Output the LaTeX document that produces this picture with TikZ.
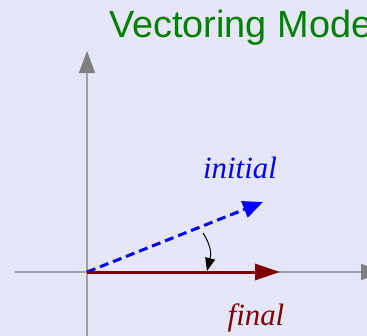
\documentclass[tikz,border=0pt]{standalone}
\usepackage{fontspec}
\setmainfont{Liberation Serif}
\setsansfont{Liberation Sans}
\usetikzlibrary{arrows.meta}
\definecolor{bgpanel}{RGB}{230,230,250}
\definecolor{axisgray}{RGB}{160,160,160}
\definecolor{tipgray}{RGB}{128,128,128}
\definecolor{darkred}{RGB}{128,0,0}
\definecolor{titlegreen}{RGB}{0,128,0}

\begin{document}
\begin{tikzpicture}[x=1bp, y=-1bp, every node/.style={inner sep=0pt},
	axis/.style={axisgray, line width=1.5bp, -{Triangle[length=22bp, width=16bp, color=tipgray]}},
	lbl/.style={font=\itshape\fontsize{31}{35}\selectfont, anchor=base}]
	\useasboundingbox (0,0) rectangle (367,336);
	\fill[bgpanel] (0,0) rectangle (367,336);
	\clip (0,0) rectangle (367,336);
	\node[titlegreen, anchor=base west, font=\sffamily\fontsize{38}{42}\selectfont] (title) at (109,37) {Vectoring Mode};
	\coordinate (O) at (87,272);
	\coordinate (ybot) at (87,340);
	\coordinate (ytop) at (87,51);
	\coordinate (xleft) at (15,272);
	\coordinate (xright) at (383,272);
	\draw[axis] (ybot) -- (ytop);
	\draw[axis] (xleft) -- (xright);
	\coordinate (vin) at (263,202);
	\coordinate (vfin) at (280,272);
	\draw[blue, line width=3bp, dash pattern=on 9bp off 5bp, -{Triangle[length=20bp, width=17bp]}] (O) -- (vin);
	\draw[darkred, line width=3bp, -{Triangle[length=25bp, width=16bp]}] (O) -- (vfin);
	\coordinate (rotfrom) at (203,233);
	\coordinate (rotto) at (207,271);
	\draw[black, line width=1bp, -{Triangle[length=13bp, width=10bp]}] (rotfrom) .. controls (212,247) and (211,255) .. (rotto);
	\node[lbl, blue] (initial) at (240,178) {initial};
	\node[lbl, darkred] (final) at (256,325) {final};
\end{tikzpicture}
\end{document}
